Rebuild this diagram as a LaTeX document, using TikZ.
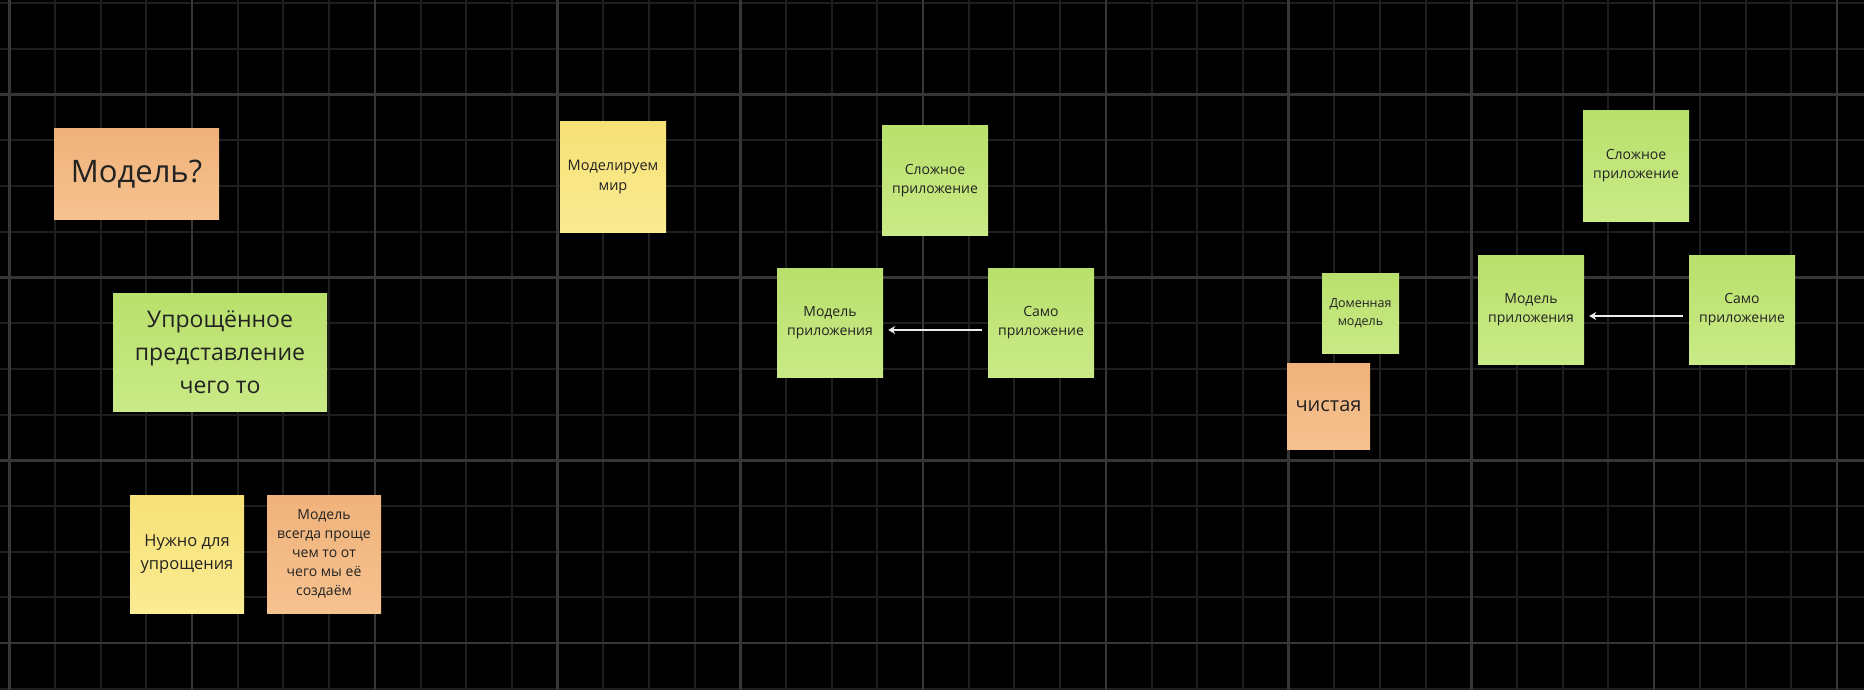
\documentclass[tikz,border=0pt]{standalone}
\usepackage{fontspec}
\setmainfont{Open Sans}
\usetikzlibrary{arrows.meta}
\definecolor{bg}{HTML}{000000}
\definecolor{gridminor}{HTML}{1E1E1E}
\definecolor{gridmajor}{HTML}{363636}
\definecolor{orTop}{HTML}{EFB27A}
\definecolor{orBot}{HTML}{F6C290}
\definecolor{grTop}{HTML}{B9E06C}
\definecolor{grBot}{HTML}{C9EA87}
\definecolor{yeTop}{HTML}{F6E176}
\definecolor{yeBot}{HTML}{FBEB92}
\definecolor{ink}{HTML}{222222}
\definecolor{arrowc}{HTML}{EDEDED}
\tikzset{
  sticky/.style={inner sep=0pt, align=center, text=ink, font=\fontsize{14}{19}\selectfont},
  orange/.style={sticky, top color=orTop, bottom color=orBot},
  green/.style={sticky, top color=grTop, bottom color=grBot},
  yellow/.style={sticky, top color=yeTop, bottom color=yeBot},
  sq/.style={minimum width=106pt, minimum height=109pt},
  link/.style={draw=arrowc, line width=1.4pt, -{Stealth[length=7pt,width=8pt]}}
}
\begin{document}
\begin{tikzpicture}[x=1pt,y=-1pt]
\fill[bg] (0,0) rectangle (1864,690);
\useasboundingbox (0,0) rectangle (1864,690);
% grid
\foreach \k in {0,...,40} {
  \draw[gridminor, line width=2pt] ({9.3+45.69*\k},0) -- ({9.3+45.69*\k},690);
}
\foreach \j in {0,...,15} {
  \draw[gridminor, line width=2pt] (0,{3.3+45.7*\j}) -- (1864,{3.3+45.7*\j});
}
\foreach \k in {0,4,...,40} {
  \draw[gridmajor, line width=2.4pt] ({9.3+45.69*\k},0) -- ({9.3+45.69*\k},690);
}
\foreach \j in {2,6,10,14} {
  \draw[gridmajor, line width=2.4pt] (0,{3.3+45.7*\j}) -- (1864,{3.3+45.7*\j});
}
% left column
\node[orange, minimum width=165pt, minimum height=90pt, font=\fontsize{31}{38}\selectfont] (q) at (136.5,174) {Модель?};
\node[green, minimum width=214pt, minimum height=118pt, font=\fontsize{23}{33}\selectfont] (simp) at (220,352) {Упрощённое\\представление\\чего то};
\node[yellow, minimum width=114pt, minimum height=118pt, font=\fontsize{16.5}{23.3}\selectfont] (need) at (187,554) {Нужно для\\упрощения};
\node[orange, minimum width=114pt, minimum height=118pt, font=\fontsize{14}{19}\selectfont] (always) at (324,554) {Модель\\всегда проще\\чем то от\\чего мы её\\создаём};
% middle
\node[yellow, minimum width=106pt, minimum height=110pt, font=\fontsize{14.5}{19.5}\selectfont] (world) at (613,177) {Моделируем\\мир};
\node[green, sq] (complex1) at (935,180.5) {Сложное\\приложение};
\node[green, sq] (model1) at (830,323) {Модель\\приложения};
\node[green, sq] (app1) at (1041,323) {Само\\приложение};
\draw[link] ([xshift=-6pt,yshift=-7pt]app1.west) -- ([xshift=5pt,yshift=-7pt]model1.east);
% right
\node[green, minimum width=77pt, minimum height=80pt, font=\fontsize{12.5}{17.7}\selectfont] (domain) at (1360.5,313) {Доменная\\модель};
\node[orange, minimum width=83pt, minimum height=86pt, font=\fontsize{20}{26}\selectfont] (clean) at (1328.5,406) {чистая};
\node[green, sq, minimum height=110pt] (complex2) at (1636,166) {Сложное\\приложение};
\node[green, sq] (model2) at (1531,309.5) {Модель\\приложения};
\node[green, sq] (app2) at (1742,309.5) {Само\\приложение};
\draw[link] ([xshift=-6pt,yshift=-6.5pt]app2.west) -- ([xshift=5pt,yshift=-6.5pt]model2.east);
\end{tikzpicture}
\end{document}
